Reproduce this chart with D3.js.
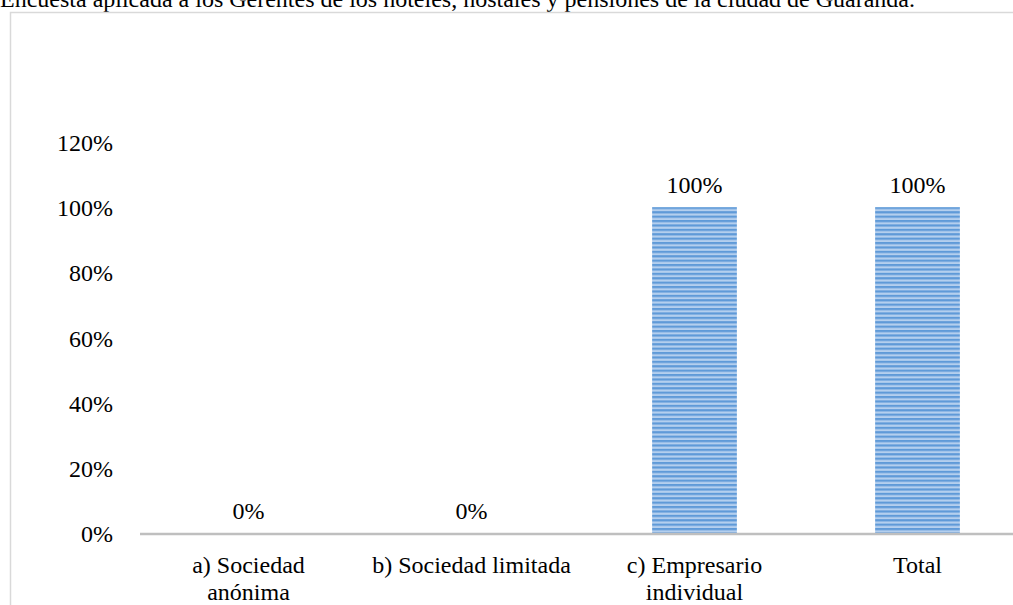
<!DOCTYPE html>
<html>
<head>
<meta charset="utf-8">
<script src="https://cdn.jsdelivr.net/npm/d3@7"></script>
<style>
  html, body { margin: 0; padding: 0; background: #fff; overflow: hidden; }
  svg { display: block; font-family: "Liberation Serif", "Times New Roman", serif; }
</style>
</head>
<body>
<svg id="chart" width="1013" height="605"></svg>
<script>
// Forma jurídica de los establecimientos encuestados
const categories = [["a) Sociedad", "anónima"], ["b) Sociedad limitada"], ["c) Empresario", "individual"], ["Total"]];
const values = [0, 0, 1, 1];
const yTicks = [0, 0.2, 0.4, 0.6, 0.8, 1.0, 1.2];
const sourceNote = "Encuesta aplicada a los Gerentes de los hoteles, hostales y pensiones de la ciudad de Guaranda.";

const svg = d3.select("#chart");
const W = 1013, H = 605;
const fontSize = 24;

// Source note (partly above the visible area)
svg.append("text")
  .attr("x", 0).attr("y", 7)
  .attr("font-size", fontSize).attr("fill", "#000")
  .text(sourceNote);

// Chart frame
svg.append("path")
  .attr("d", `M10.5,${H} V12.5 H${W}`)
  .attr("fill", "none").attr("stroke", "#d9d9d9").attr("stroke-width", 1.5);

// Striped fill for the bars
const defs = svg.append("defs");
const pat = defs.append("pattern")
  .attr("id", "stripes").attr("patternUnits", "userSpaceOnUse")
  .attr("width", 8).attr("height", 4.4);
pat.append("rect").attr("width", 8).attr("height", 4.4).attr("fill", "#b4cfee");
pat.append("rect").attr("y", 0).attr("width", 8).attr("height", 2.2).attr("fill", "#5f9ad8");

const x = d3.scaleBand()
  .domain(d3.range(categories.length))
  .range([137, 1029])
  .padding(0);
const y = d3.scaleLinear().domain([0, 1.2]).range([533, 142]);
const barW = x.bandwidth() * 0.38;

// Y tick labels
svg.append("g").selectAll("text")
  .data(yTicks).join("text")
  .attr("x", 113).attr("y", d => y(d) + 9)
  .attr("text-anchor", "end").attr("font-size", fontSize).attr("fill", "#000")
  .text(d => d3.format(".0%")(d));

// Bars
svg.append("g").selectAll("rect")
  .data(values).join("rect")
  .attr("x", (d, i) => x(i) + (x.bandwidth() - barW) / 2)
  .attr("y", d => y(d))
  .attr("width", barW)
  .attr("height", d => y(0) - y(d))
  .attr("fill", "url(#stripes)");

// Value labels
svg.append("g").selectAll("text")
  .data(values).join("text")
  .attr("x", (d, i) => x(i) + x.bandwidth() / 2)
  .attr("y", d => y(d) - 14)
  .attr("text-anchor", "middle").attr("font-size", fontSize).attr("fill", "#000")
  .text(d => d3.format(".0%")(d));

// Category axis line
svg.append("line")
  .attr("x1", 140).attr("x2", W)
  .attr("y1", y(0) + 1).attr("y2", y(0) + 1)
  .attr("stroke", "#bfbfbf").attr("stroke-width", 2.5);

// Category labels
const cat = svg.append("g").selectAll("text")
  .data(categories).join("text")
  .attr("text-anchor", "middle").attr("font-size", fontSize).attr("fill", "#000");
cat.each(function(lines, i) {
  d3.select(this).selectAll("tspan")
    .data(lines).join("tspan")
    .attr("x", x(i) + x.bandwidth() / 2)
    .attr("y", (l, j) => 573 + j * 27)
    .text(l => l);
});
</script>
</body>
</html>
